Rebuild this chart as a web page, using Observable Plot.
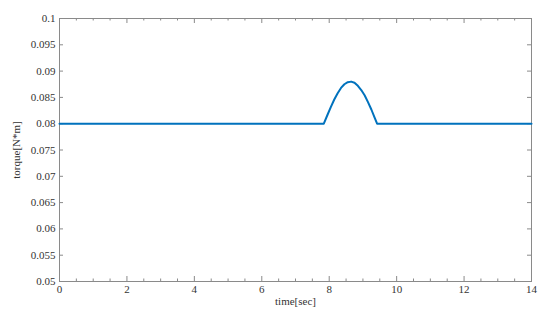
<!DOCTYPE html>
<html>
<head>
<meta charset="utf-8">
<script src="https://cdn.jsdelivr.net/npm/d3@7"></script>
<script src="https://cdn.jsdelivr.net/npm/@observablehq/plot@0.6"></script>
<style>
  html, body { margin: 0; padding: 0; background: #fff; }
  #chart svg { display: block; font-family: "Liberation Serif", "DejaVu Serif", serif !important; }
</style>
</head>
<body>
<div id="chart"></div>
<script>
// Torque curve
const timeSec = [0, 7.84, 7.95, 8.05, 8.15, 8.25, 8.35, 8.45, 8.55, 8.65, 8.75, 8.85, 8.95, 9.05, 9.15, 9.25, 9.35, 9.42, 14];
const torque  = [0.08, 0.08, 0.0817, 0.0832, 0.0846, 0.0858, 0.0868, 0.0875, 0.0879, 0.0880, 0.0878, 0.0872, 0.0864, 0.0854, 0.0841, 0.0827, 0.0811, 0.08, 0.08];

const xMajorTicks = [0, 2, 4, 6, 8, 10, 12, 14];
const xMinorTicks = [0.5, 1, 1.5, 2.5, 3, 3.5, 4.5, 5, 5.5, 6.5, 7, 7.5, 8.5, 9, 9.5, 10.5, 11, 11.5, 12.5, 13, 13.5];
const yMajorTicks = [0.05, 0.055, 0.06, 0.065, 0.07, 0.075, 0.08, 0.085, 0.09, 0.095, 0.1];
const yTickLabels = ["0.05", "0.055", "0.06", "0.065", "0.07", "0.075", "0.08", "0.085", "0.09", "0.095", "0.1"];

const data = timeSec.map((t, i) => ({t, v: torque[i]}));

const W = 550, H = 318, mL = 59, mR = 19, mT = 18, mB = 37;
const innerW = W - mL - mR, innerH = H - mT - mB;
const axisColor = "#8a8a8a";
const textColor = "#333";
const tick = {stroke: axisColor, strokeWidth: 1};

const chart = Plot.plot({
  width: W,
  height: H,
  marginLeft: mL,
  marginRight: mR,
  marginTop: mT,
  marginBottom: mB,
  style: {fontFamily: "'Liberation Serif', serif", fontSize: "11px", color: textColor, background: "#fff"},
  x: {domain: [0, 14]},
  y: {domain: [0.05, 0.1]},
  marks: [
    // inward ticks (rules inset down to a few pixels at each frame edge)
    Plot.ruleX(xMajorTicks, {x: d => d, insetTop: innerH - 5, ...tick}),
    Plot.ruleX(xMajorTicks, {x: d => d, insetBottom: innerH - 5, ...tick}),
    Plot.ruleX(xMinorTicks, {x: d => d, insetTop: innerH - 2.5, ...tick}),
    Plot.ruleX(xMinorTicks, {x: d => d, insetBottom: innerH - 2.5, ...tick}),
    Plot.ruleY(yMajorTicks, {y: d => d, insetRight: innerW - 4, ...tick}),
    Plot.ruleY(yMajorTicks, {y: d => d, insetLeft: innerW - 4, ...tick}),
    Plot.frame({stroke: axisColor, strokeWidth: 1}),
    // labels
    Plot.axisX(xMajorTicks, {anchor: "bottom", tickSize: 0, tickPadding: 4, fill: textColor,
      label: "time[sec]", labelAnchor: "center", labelArrow: "none", labelOffset: 23}),
    Plot.axisY(yMajorTicks, {anchor: "left", tickSize: 0, tickPadding: 4, fill: textColor,
      tickFormat: (d, i) => yTickLabels[i],
      label: "torque[N*m]", labelAnchor: "center", labelArrow: "none", labelOffset: 47}),
    Plot.line(data, {x: "t", y: "v", stroke: "#0072BD", strokeWidth: 2})
  ]
});
document.getElementById("chart").appendChild(chart);
</script>
</body>
</html>
